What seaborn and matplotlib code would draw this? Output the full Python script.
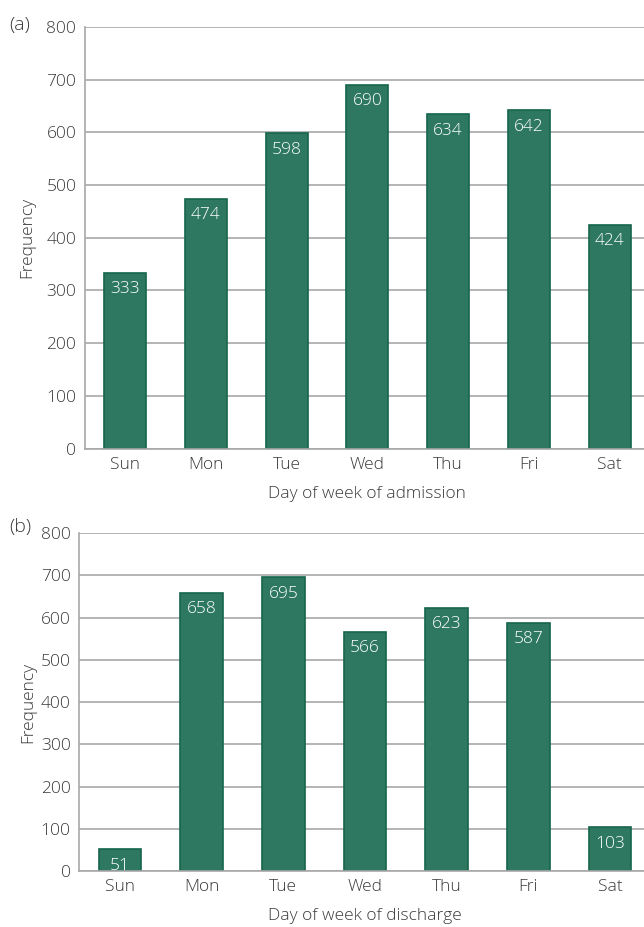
import pandas as pd
import matplotlib.pyplot as plt
import seaborn as sns

# dados
days = ["Sun", "Mon", "Tue", "Wed", "Thu", "Fri", "Sat"]
admission = [333, 474, 598, 690, 634, 642, 424]
discharge = [51, 658, 695, 566, 623, 587, 103]

sns.set_theme(style="white")
plt.rcParams['font.family'] = ['Open Sans', 'DejaVu Sans']
plt.rcParams['font.weight'] = 'light'
plt.rcParams['axes.labelweight'] = 'light'

bar_color = "#2e7862"
edge_color = "#16654c"
text_color = "#3a3a3a"
grid_color = "#a8a8a8"
fs = 12.5

fig = plt.figure(figsize=(6.44, 9.27), dpi=100)
ax_a = fig.add_axes([0.1315, 0.516, 0.878, 0.455])
ax_b = fig.add_axes([0.1228, 0.0604, 0.888, 0.3646])

panels = [
    (ax_a, admission, "Day of week of admission", "(a)", 0.973, 8),
    (ax_b, discharge, "Day of week of discharge", "(b)", 0.431, 3),
]

for ax, values, xlabel, tag, tag_y, ypad in panels:
    df = pd.DataFrame({"day": days, "freq": values})
    sns.barplot(data=df, x="day", y="freq", color=bar_color, width=0.52,
                edgecolor=edge_color, linewidth=1.2, saturation=1, ax=ax)
    for p in ax.patches:
        p.set_facecolor(bar_color)
    ax.set_xlim(-0.5, 6.5)
    ax.set_ylim(0, 800)
    ax.set_yticks(range(0, 801, 100))
    ax.yaxis.grid(True, color=grid_color, linewidth=1.2)
    ax.set_axisbelow(True)
    for s in ["top", "right"]:
        ax.spines[s].set_visible(False)
    for s in ["left", "bottom"]:
        ax.spines[s].set_color(grid_color)
        ax.spines[s].set_linewidth(1.2)
    ax.tick_params(axis="both", length=0, labelsize=fs, colors=text_color, pad=6)
    ax.set_xlabel(xlabel, fontsize=fs, color=text_color, labelpad=9, fontweight="light")
    ax.set_ylabel("Frequency", fontsize=fs, color=text_color, labelpad=ypad, fontweight="light")
    for i, v in enumerate(values):
        ax.annotate(str(v), (i, v), xytext=(0, -6), textcoords="offset points",
                    ha="center", va="top", color="white", fontsize=fs)
    fig.text(0.014, tag_y, tag, fontsize=14, color=text_color,
             ha="left", va="center")

fig.savefig("out.png", dpi=100)
plt.close()
